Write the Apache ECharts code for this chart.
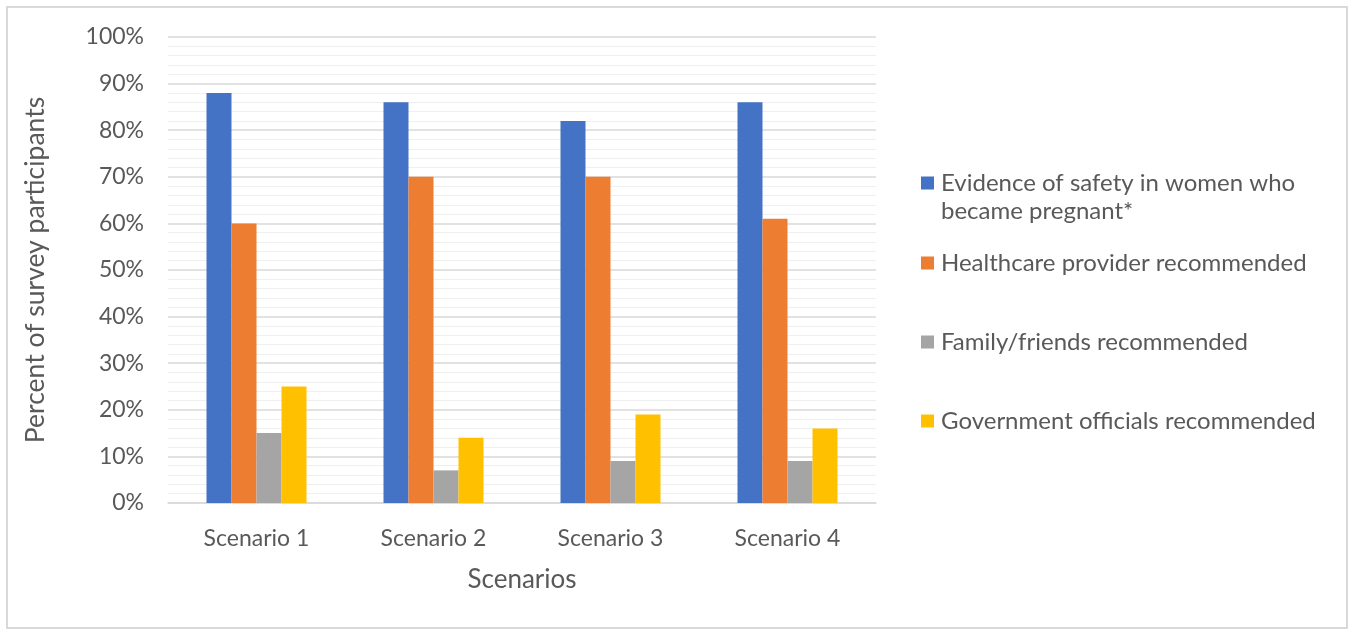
<!DOCTYPE html>
<html><head><meta charset="utf-8">
<script src="https://cdn.jsdelivr.net/npm/echarts@6/dist/echarts.min.js"></script>
<style>html,body{margin:0;padding:0;background:#fff}#c{width:1352px;height:633px}</style>
</head><body><div id="c"></div>
<script>
var categories = ['Scenario 1', 'Scenario 2', 'Scenario 3', 'Scenario 4'];
var seriesNames = ['Evidence of safety in women who became pregnant*', 'Healthcare provider recommended', 'Family/friends recommended', 'Government officials recommended'];
var evidence = [88, 86, 82, 86];
var provider = [60, 70, 70, 61];
var family = [15, 7, 9, 9];
var government = [25, 14, 19, 16];
var colors = ['#4472C4', '#ED7D31', '#A5A5A5', '#FFC000'];
var values = [evidence, provider, family, government];

var FONT = 'Lato';
var TXT = '#595959';
var LSIZE = 24;
var legendTops = [183, 263, 342, 421];
var legends = seriesNames.map(function (n, i) {
  return {
    data: [n], left: 921, top: legendTops[i] - 14, orient: 'vertical',
    itemWidth: 13, itemHeight: 13, padding: 0,
    icon: 'rect', selectedMode: false,
    formatter: i === 0 ? 'Evidence of safety in women who' : '{name}',
    textStyle: { fontFamily: FONT, fontSize: LSIZE, color: TXT, padding: [0, 0, 0, 2], height: 28, lineHeight: 28 }
  };
});

var chart = echarts.init(document.getElementById('c'));
chart.setOption({
  animation: false,
  color: colors,
  graphic: [
    { type: 'rect', shape: { x: 7, y: 7, width: 1340, height: 621 }, style: { fill: 'none', stroke: '#d9d9d9', lineWidth: 2 }, silent: true },
    { type: 'text', left: 941, top: 199, style: { text: 'became pregnant*', font: LSIZE + 'px ' + FONT, fill: TXT }, silent: true }
  ],
  legend: legends,
  grid: { left: 168, right: 476, top: 37, bottom: 130 },
  xAxis: {
    type: 'category', data: categories,
    name: 'Scenarios', nameLocation: 'middle', nameGap: 64,
    nameTextStyle: { fontFamily: FONT, fontSize: 26, color: TXT },
    axisLine: { lineStyle: { color: '#d9d9d9', width: 1.5 } },
    axisTick: { show: false },
    axisLabel: { fontFamily: FONT, fontSize: 23, color: TXT, margin: 24 }
  },
  yAxis: {
    type: 'value', min: 0, max: 100, interval: 10,
    name: 'Percent of survey participants', nameLocation: 'middle', nameGap: 119,
    nameTextStyle: { fontFamily: FONT, fontSize: 26.5, color: TXT },
    axisLine: { show: false }, axisTick: { show: false },
    axisLabel: { fontFamily: FONT, fontSize: 23, color: TXT, margin: 24, formatter: '{value}%' },
    splitLine: { lineStyle: { color: '#d9d9d9', width: 1.5 } },
    minorTick: { show: false, splitNumber: 5 },
    minorSplitLine: { show: true, lineStyle: { color: '#efefef', width: 1.2 } }
  },
  series: values.map(function (v, i) {
    return {
      name: seriesNames[i], type: 'bar', data: v,
      barGap: '0%', barCategoryGap: '43.5%',
      itemStyle: { color: colors[i] }
    };
  })
});
</script></body></html>
